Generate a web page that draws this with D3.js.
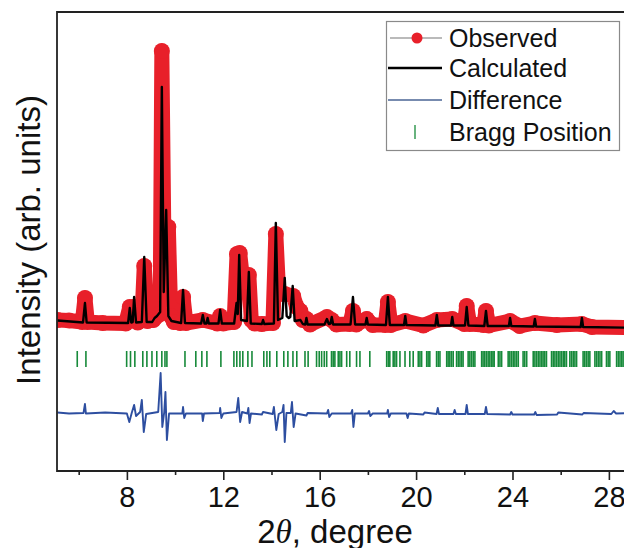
<!DOCTYPE html>
<html>
<head>
<meta charset="utf-8">
<script src="https://cdn.jsdelivr.net/npm/d3@7"></script>
<style>
  body { margin: 0; background: #fff; }
  svg { display: block; font-family: "Liberation Sans", Arial, sans-serif; }
</style>
</head>
<body>
<svg id="chart" width="624" height="548"></svg>
<script>
// x ticks (2theta, degree)
var majorTicks = [8, 12, 16, 20, 24, 28];
var minorTicks = [6, 10, 14, 18, 22, 26];

// calculated profile [2theta, intensity]
var calcPts = [
  [5.12, 15], [6.18, -5], [6.26, 190], [6.33, -5],
  [8.05, -10], [8.12, 140], [8.18, -5], [8.24, 0], [8.30, 250], [8.38, -5],
  [8.62, 0], [8.72, 650], [8.82, 0],
  [9.05, 0], [9.15, 40], [9.25, 60], [9.38, 100], [9.45, 2350], [9.53, 300], [9.63, 1120], [9.72, 60], [9.85, 10],
  [10.25, -10], [10.33, 320], [10.41, -10],
  [11.08, -15], [11.15, 70], [11.22, -15], [11.30, -15], [11.35, 40], [11.40, -15],
  [11.80, -15], [11.87, 120], [11.94, -15],
  [12.45, -15], [12.55, 190], [12.60, 80], [12.66, 670], [12.74, 20], [12.98, 10], [13.06, 500], [13.14, -15],
  [13.60, -20], [13.65, 20], [13.70, -20],
  [14.10, -15], [14.18, 990], [14.27, 20], [14.45, 40], [14.55, 440], [14.63, 60], [14.72, 40], [14.78, 50],
  [14.88, 360], [14.96, 10], [15.20, 20], [15.30, -20],
  [15.40, -25], [15.45, 40], [15.50, -25],
  [16.20, -25], [16.30, 30], [16.38, -20], [16.45, -15], [16.50, 50], [16.56, -25],
  [17.28, -25], [17.38, 250], [17.47, -25],
  [17.90, -25], [17.95, 40], [18.00, -25],
  [18.75, -30], [18.83, 250], [18.91, -30],
  [19.50, -30], [19.55, 60], [19.60, -30],
  [20.80, -35], [20.86, 70], [20.92, -35],
  [21.45, -35], [21.50, 50], [21.55, -35],
  [22.03, -35], [22.10, 150], [22.17, -35],
  [22.83, -40], [22.90, 110], [22.97, -40],
  [23.85, -40], [23.90, 40], [23.95, -40],
  [24.88, -45], [24.93, 30], [24.98, -45],
  [26.83, -50], [26.88, 40], [26.93, -50],
  [29.50, -60]
];

// observed profile [2theta, intensity]
var obsPts = [
  [5.12, 20], [5.60, 15], [6.15, 0], [6.26, 240], [6.36, 0], [7.00, -10],
  [7.95, -15], [8.12, 150], [8.30, 150], [8.45, -5], [8.62, 20], [8.72, 560], [8.85, 10],
  [9.10, 20], [9.38, 80], [9.45, 2710], [9.55, 500], [9.62, 900], [9.72, 950], [9.82, 60], [9.95, 0],
  [10.22, -10], [10.33, 250], [10.45, -10], [11.15, 20], [11.75, -15], [11.87, 60], [12.00, -15],
  [12.45, 0], [12.57, 680], [12.68, 690], [12.80, 430], [12.92, 400], [13.06, 470], [13.16, 20], [13.30, -15],
  [13.60, -20], [14.06, -10], [14.18, 880], [14.30, 280], [14.55, 280], [14.90, 260], [15.05, 150],
  [15.20, 110], [15.30, 20], [15.45, 30], [15.60, -25], [16.30, 50], [16.50, 20], [16.70, -25],
  [17.25, -20], [17.38, 110], [17.52, -25], [17.95, 30], [18.20, -30],
  [18.72, -30], [18.83, 200], [18.95, -30], [19.55, 10], [20.30, -35], [20.86, 20], [21.50, 30],
  [22.00, -20], [22.10, 160], [22.22, -20], [22.80, -30], [22.90, 110], [23.02, -35],
  [23.90, 10], [24.30, -40], [24.93, -10], [25.84, -30], [26.88, -20], [27.30, -50], [29.50, -60]
];

// difference curve [2theta, intensity]
var diffPts = [
  [5.12, -905], [5.60, -915], [6.20, -910], [6.26, -820], [6.30, -915], [7.10, -905], [8.00, -915], [8.10, -1000], [8.20, -910],
  [8.30, -830], [8.38, -940], [8.55, -900], [8.62, -780], [8.70, -1100], [8.80, -920],
  [9.30, -900], [9.40, -510], [9.47, -1050], [9.55, -900], [9.60, -700], [9.66, -1180], [9.75, -915],
  [10.30, -915], [10.33, -850], [10.38, -960], [10.45, -915], [11.12, -915], [11.15, -990], [11.20, -915],
  [11.85, -910], [11.87, -860], [11.92, -960], [12.00, -915], [12.55, -900], [12.62, -760], [12.70, -1000],
  [12.78, -900], [13.00, -915], [13.04, -860], [13.09, -1010], [13.15, -915], [13.60, -925], [13.65, -900],
  [14.05, -920], [14.10, -850], [14.20, -1080], [14.30, -920], [14.45, -900], [14.50, -830], [14.55, -1200],
  [14.62, -910], [14.80, -910], [14.85, -800], [14.92, -1050], [15.00, -915], [15.45, -935], [15.50, -910],
  [16.30, -915], [16.35, -880], [16.40, -950], [16.50, -915], [17.30, -915], [17.35, -880], [17.40, -1050],
  [17.46, -915], [18.00, -915], [18.05, -890], [18.10, -940], [18.20, -915], [18.80, -915], [18.83, -880],
  [18.88, -950], [18.95, -915], [19.60, -915], [19.65, -960], [19.70, -915], [20.30, -925], [20.35, -905],
  [20.85, -920], [20.90, -860], [20.95, -920], [21.55, -920], [21.60, -880], [21.65, -920], [22.05, -920],
  [22.10, -830], [22.15, -920], [22.85, -920], [22.90, -850], [22.95, -920], [23.90, -925], [23.95, -900],
  [24.00, -925], [24.90, -925], [24.95, -900], [25.00, -930], [25.85, -925], [25.90, -905], [26.90, -925],
  [26.95, -910], [28.10, -920], [28.20, -890], [28.30, -915], [29.50, -905]
];

// Bragg reflection positions (2theta)
var braggPos = [
  5.94, 6.30, 7.99, 8.15, 8.33, 8.66, 8.83, 9.04, 9.24, 9.45, 9.58, 9.66, 10.41, 10.86, 11.11, 11.32, 11.90,
  12.44, 12.56, 12.69, 12.81, 13.02, 13.19, 13.68, 13.81, 13.93, 14.22, 14.51, 14.68, 14.89, 15.05,
  15.39, 15.52, 15.87, 15.98, 16.08, 16.19, 16.29, 16.49, 16.56, 16.63, 16.77, 16.84, 16.91, 17.12, 17.25,
  17.53, 17.67, 18.08, 18.78, 18.85, 18.91, 19.05, 19.12, 19.19, 19.33, 19.54, 19.74, 19.88, 20.09, 20.16,
  20.23, 20.44, 20.50, 20.57, 20.85, 20.92, 20.99, 21.27, 21.33, 21.40, 21.47, 21.54, 21.68, 21.75, 21.82,
  21.89, 21.95, 22.16, 22.23, 22.30, 22.37, 22.44, 22.72, 22.78, 22.85, 22.92, 22.99, 23.06,
  23.13, 23.19, 23.24, 23.41, 23.48, 23.55, 23.82, 23.89, 23.96, 24.03, 24.10, 24.17, 24.24, 24.44, 24.51,
  24.59, 24.86, 24.93, 25.00, 25.07, 25.14, 25.21, 25.27, 25.34, 25.41, 25.62, 25.69, 25.76, 25.83, 25.90,
  25.97, 26.04, 26.11, 26.17, 26.24, 26.38, 26.45, 26.52, 26.59, 26.66, 26.93, 27.00, 27.07, 27.14, 27.21,
  27.42, 27.49, 27.56, 27.63, 27.70, 27.90, 27.97, 28.04, 28.32, 28.39, 28.46, 28.53, 28.59
];
var braggTop = -290, braggBottom = -450;

var legendItems = ['Observed', 'Calculated', 'Difference', 'Bragg Position'];

var svg = d3.select('#chart');
var plotLeft = 57, plotTop = 12, plotBottom = 471;

var x = d3.scaleLinear().domain([5.1, 29.5]).range([plotLeft, plotLeft + 24.1 * 24.4]);
var y = d3.scaleLinear().domain([-1490, 3100]).range([plotBottom, plotTop]);

svg.append('defs').append('clipPath').attr('id', 'clip')
  .append('rect').attr('x', plotLeft).attr('y', plotTop).attr('width', 624 - plotLeft).attr('height', plotBottom - plotTop);

var plot = svg.append('g').attr('clip-path', 'url(#clip)');
var line = d3.line().x(function (d) { return x(d[0]); }).y(function (d) { return y(d[1]); });

// observed: dense red dots drawn as a thick round band plus dots
plot.append('path')
  .attr('d', line(obsPts))
  .attr('fill', 'none')
  .attr('stroke', '#e8202a')
  .attr('stroke-width', 15)
  .attr('stroke-linejoin', 'round')
  .attr('stroke-linecap', 'round');
plot.append('g').selectAll('circle')
  .data(obsPts).enter()
  .append('circle')
  .attr('cx', function (d) { return x(d[0]); })
  .attr('cy', function (d) { return y(d[1]); })
  .attr('r', 8)
  .attr('fill', '#e8202a');

// calculated
plot.append('path')
  .attr('d', line(calcPts))
  .attr('fill', 'none')
  .attr('stroke', '#000')
  .attr('stroke-width', 2.4)
  .attr('stroke-linejoin', 'round');

// Bragg positions
plot.append('g').selectAll('line')
  .data(braggPos).enter()
  .append('line')
  .attr('x1', function (d) { return x(d); })
  .attr('x2', function (d) { return x(d); })
  .attr('y1', y(braggTop))
  .attr('y2', y(braggBottom))
  .attr('stroke', '#178a3a')
  .attr('stroke-width', 1.6);

// difference
plot.append('path')
  .attr('d', line(diffPts))
  .attr('fill', 'none')
  .attr('stroke', '#2d4ea0')
  .attr('stroke-width', 1.9)
  .attr('stroke-linejoin', 'round');

// axes
var xAxis = svg.append('g')
  .attr('transform', 'translate(0,' + plotBottom + ')')
  .call(d3.axisBottom(x).tickValues(majorTicks).tickFormat(d3.format('d')).tickSize(9).tickSizeOuter(0).tickPadding(6));
xAxis.select('.domain').remove();
xAxis.selectAll('line').attr('stroke', '#222').attr('stroke-width', 1.6);
xAxis.selectAll('text').attr('font-size', 29).attr('fill', '#111').attr('font-family', '"Liberation Sans", Arial, sans-serif');

var xMinor = svg.append('g')
  .attr('transform', 'translate(0,' + plotBottom + ')')
  .call(d3.axisBottom(x).tickValues(minorTicks).tickFormat('').tickSize(4).tickSizeOuter(0));
xMinor.select('.domain').remove();
xMinor.selectAll('line').attr('stroke', '#222').attr('stroke-width', 1.6);

// frame
svg.append('path')
  .attr('d', 'M624,' + plotTop + 'H' + plotLeft + 'V' + plotBottom + 'H624')
  .attr('fill', 'none')
  .attr('stroke', '#222')
  .attr('stroke-width', 1.8);

// axis titles
var xt = svg.append('text')
  .attr('x', 335).attr('y', 543)
  .attr('text-anchor', 'middle')
  .attr('font-size', 33)
  .attr('fill', '#111');
xt.append('tspan').text('2');
xt.append('tspan').attr('font-family', '"Liberation Serif", serif').attr('font-style', 'italic').text('θ');
xt.append('tspan').text(', degree');

svg.append('text')
  .attr('transform', 'translate(40,240) rotate(-90)')
  .attr('text-anchor', 'middle')
  .attr('font-size', 33)
  .attr('fill', '#111')
  .text('Intensity (arb. units)');

// legend
var lg = svg.append('g');
lg.append('rect')
  .attr('x', 386.5).attr('y', 21.5).attr('width', 233).attr('height', 129)
  .attr('fill', '#fff').attr('stroke', '#8a8a8a').attr('stroke-width', 1.2);
var rowY = [38, 68, 100, 132];
lg.selectAll('text.lab')
  .data(legendItems).enter()
  .append('text')
  .attr('class', 'lab')
  .attr('x', 449)
  .attr('y', function (d, i) { return rowY[i] + 9; })
  .attr('font-size', 25)
  .attr('fill', '#111')
  .text(function (d) { return d; });
lg.append('line').attr('x1', 390).attr('x2', 442).attr('y1', rowY[0]).attr('y2', rowY[0])
  .attr('stroke', '#777').attr('stroke-width', 1.2);
lg.append('circle').attr('cx', 417).attr('cy', rowY[0]).attr('r', 5.5).attr('fill', '#e8202a');
lg.append('line').attr('x1', 388).attr('x2', 442).attr('y1', rowY[1]).attr('y2', rowY[1])
  .attr('stroke', '#000').attr('stroke-width', 2.6);
lg.append('line').attr('x1', 388).attr('x2', 442).attr('y1', rowY[2]).attr('y2', rowY[2])
  .attr('stroke', '#4a6494').attr('stroke-width', 1.3);
lg.append('line').attr('x1', 415).attr('x2', 415).attr('y1', rowY[3] - 7).attr('y2', rowY[3] + 7)
  .attr('stroke', '#178a3a').attr('stroke-width', 1.3);
</script>
</body>
</html>
